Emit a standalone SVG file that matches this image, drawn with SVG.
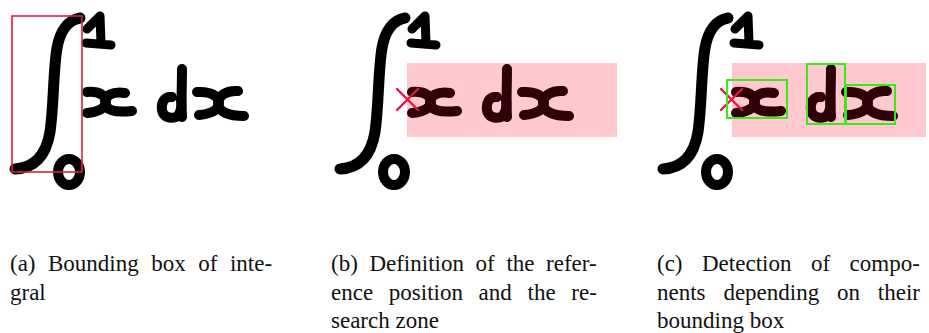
<svg xmlns="http://www.w3.org/2000/svg" xmlns:xlink="http://www.w3.org/1999/xlink" width="929" height="333" viewBox="0 0 929 333">
<style>
.ink{fill:none;stroke-linecap:round;stroke-linejoin:round}
.cap{font-family:"Liberation Serif","Times New Roman",serif;font-size:23px;fill:#111}
.bbox{fill:none;stroke:#dc1e40;stroke-width:1.6}
.zone{fill:#ffc9cf}
.comp{fill:none;stroke:#3be81a;stroke-width:2}
.mark{stroke:#e8163c;stroke-width:2.4;stroke-linecap:round}
</style>
<defs>
<g id="intg" class="ink">
<path d="M15,169 C34,168 46,156 50,132 C54,104 53,72 57,48 C60,31 68,20 80,18" stroke-width="11"/>
<path d="M87,29 C92,24 97,19 100,16 L101,43 M86,43 L111,45" stroke-width="9"/>
<ellipse cx="69" cy="172" rx="11" ry="13" stroke-width="10"/>
</g>
<g id="expr" class="ink" stroke-width="10">
<path d="M87,92 C100,91 106,96 106,102 C106,108 98,112 87,113"/>
<path d="M125,93 C112,91 105,96 105,102 C105,110 114,113 132,111"/>
<path d="M172,97 C164,96 161,103 162,110 C163,117 170,119 176,117 C181,114 182,106 181,100"/>
<path d="M182,69 C182,85 181,102 182,117"/>
<path d="M197,92 C212,91 219,97 219,103 C219,110 211,114 199,115"/>
<path d="M238,91 C225,90 218,97 218,103 C218,112 229,116 244,116"/>
</g>
</defs>

<g id="panel-a">
<use xlink:href="#intg" stroke="#000"/>
<use xlink:href="#expr" stroke="#000"/>
<rect class="bbox" x="12" y="16" width="70" height="156"/>
</g>

<g id="panel-b">
<rect class="zone" x="407" y="63" width="210" height="74"/>
<use xlink:href="#intg" stroke="#000" transform="translate(325,0)"/>
<use xlink:href="#expr" stroke="#2e0206" transform="translate(325,0)"/>
<path class="mark" d="M397,89 L418,110 M418,89 L397,110"/>
</g>

<g id="panel-c">
<rect class="zone" x="732" y="63" width="194" height="74"/>
<use xlink:href="#intg" stroke="#000" transform="translate(648,0)"/>
<use xlink:href="#expr" stroke="#2e0206" transform="translate(649,0)"/>
<path class="mark" d="M721,89 L742,110 M742,89 L721,110"/>
<rect class="comp" x="727" y="80" width="60" height="38"/>
<rect class="comp" x="807" y="64" width="38" height="60"/>
<rect class="comp" x="846" y="85" width="49" height="39"/>
</g>

<g id="captions">
<text class="cap" y="271"><tspan x="10">(a)</tspan><tspan x="48">Bounding</tspan><tspan x="151.2">box</tspan><tspan x="198.2">of</tspan><tspan x="229.9">inte-</tspan></text>
<text class="cap" x="10" y="300">gral</text>
<text class="cap" y="271"><tspan x="331">(b)</tspan><tspan x="369.4">Definition</tspan><tspan x="475.6">of</tspan><tspan x="506.4">the</tspan><tspan x="546.1">refer-</tspan></text>
<text class="cap" y="300"><tspan x="331">ence</tspan><tspan x="388.8">position</tspan><tspan x="478.6">and</tspan><tspan x="527.5">the</tspan><tspan x="571.3">re-</tspan></text>
<text class="cap" x="331" y="328">search zone</text>
<text class="cap" y="271"><tspan x="657">(c)</tspan><tspan x="702">Detection</tspan><tspan x="810.9">of</tspan><tspan x="849.6">compo-</tspan></text>
<text class="cap" y="300"><tspan x="657">nents</tspan><tspan x="723.4">depending</tspan><tspan x="837">on</tspan><tspan x="877.8">their</tspan></text>
<text class="cap" x="657" y="328">bounding box</text>
</g>
</svg>
